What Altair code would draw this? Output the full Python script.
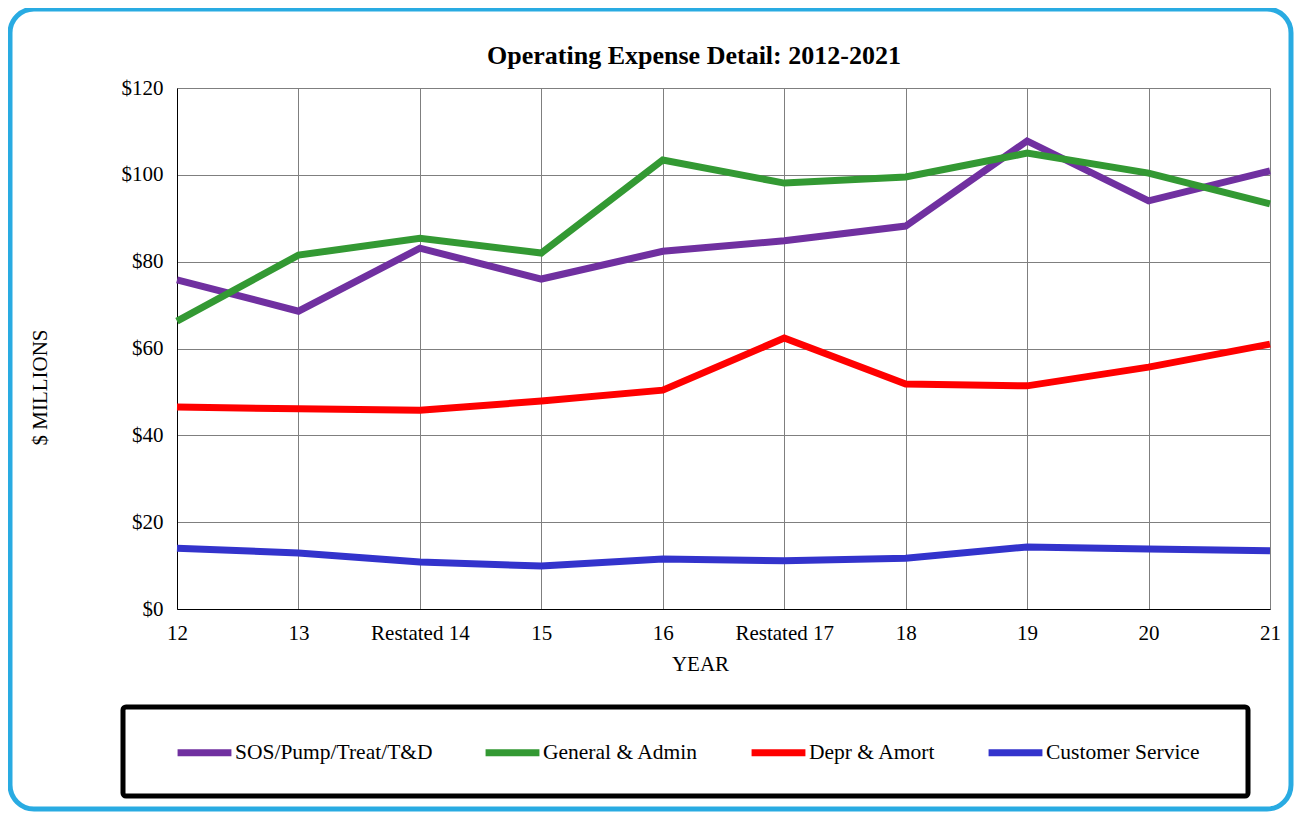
import altair as alt
import pandas as pd

years = ["12", "13", "Restated 14", "15", "16", "Restated 17", "18", "19", "20", "21"]
series_names = ["SOS/Pump/Treat/T&D", "General & Admin", "Depr & Amort", "Customer Service"]
sos = [75.8, 68.6, 83.1, 76.0, 82.4, 84.8, 88.2, 107.8, 94.0, 100.9]
ga = [66.3, 81.5, 85.4, 82.0, 103.4, 98.1, 99.5, 105.0, 100.4, 93.3]
depr = [46.5, 46.1, 45.8, 47.9, 50.4, 62.4, 51.8, 51.4, 55.7, 61.0]
cust = [14.0, 12.9, 10.8, 9.9, 11.5, 11.1, 11.7, 14.3, 13.8, 13.4]
colors = ["#7030A0", "#339933", "#FF0000", "#3333CC"]
title_text = "Operating Expense Detail: 2012-2021"

rows = []
for name, vals in zip(series_names, [sos, ga, depr, cust]):
    for i, (y, v) in enumerate(zip(years, vals)):
        rows.append({"year": y, "value": v, "series": name, "order": i})
df = pd.DataFrame(rows)

FONT = "Liberation Serif"
W, H = 1093, 521

lines = alt.Chart(df).mark_line(strokeWidth=7, strokeJoin="miter", strokeCap="butt").encode(
    x=alt.X("year:N", sort=years,
            scale=alt.Scale(type="point", padding=0),
            axis=alt.Axis(title="YEAR", labelAngle=0, ticks=False, grid=True,
                          gridColor="#7f7f7f", gridWidth=1, domainColor="black",
                          labelFont=FONT, labelFontSize=21, labelColor="black",
                          labelPadding=13, titleFont=FONT, titleFontSize=21,
                          titleFontWeight="normal", titleColor="black",
                          titleX=523, titleY=44, titleAnchor="middle")),
    y=alt.Y("value:Q", scale=alt.Scale(domain=[0, 120]),
            axis=alt.Axis(title="$ MILLIONS", values=[0, 20, 40, 60, 80, 100, 120],
                          labelExpr="'$' + datum.value", ticks=False, grid=True,
                          gridColor="#7f7f7f", gridWidth=1, domainColor="black",
                          labelFont=FONT, labelFontSize=21, labelColor="black",
                          labelPadding=14, titleFont=FONT, titleFontSize=21,
                          titleFontWeight="normal", titleColor="black",
                          titleX=-137, titleY=299, titleAngle=270, titleAlign="center",
                          titleBaseline="middle")),
    color=alt.Color("series:N", sort=series_names,
                    scale=alt.Scale(domain=series_names, range=colors),
                    legend=alt.Legend(title=None, orient="none", direction="horizontal",
                                      columns=4, legendX=-3, legendY=634,
                                      symbolType="stroke", symbolSize=2900,
                                      symbolStrokeWidth=7, columnPadding=38,
                                      labelFont=FONT, labelFontSize=21.5, labelColor="black",
                                      labelOffset=0, labelLimit=400)),
    order="order:Q",
)

box_df = pd.DataFrame({"k": [0]})
title_df = pd.DataFrame({"t": [title_text]})

border = alt.Chart(box_df).mark_rect(filled=False, stroke="#29ABE2", strokeWidth=5,
                                     cornerRadius=24).encode(
    x=alt.value(-167), x2=alt.value(1114), y=alt.value(-79), y2=alt.value(721))
legend_box = alt.Chart(box_df).mark_rect(filled=False, stroke="black", strokeWidth=5,
                                         cornerRadius=3).encode(
    x=alt.value(-54), x2=alt.value(1071), y=alt.value(619), y2=alt.value(708))
title = alt.Chart(title_df).mark_text(font=FONT, fontSize=26, fontWeight="bold",
                                      color="black", align="center", baseline="middle").encode(
    x=alt.value(517), y=alt.value(-32), text="t:N")

chart = alt.layer(border, legend_box, title, lines).properties(
    width=W, height=H,
    autosize=alt.AutoSizeParams(type="none"),
    padding={"left": 169, "top": 80, "right": 24, "bottom": 203},
).configure_view(stroke="black", strokeWidth=1).configure(background="white")

chart.save("out.html", embed_options={"renderer": "svg", "actions": False})
